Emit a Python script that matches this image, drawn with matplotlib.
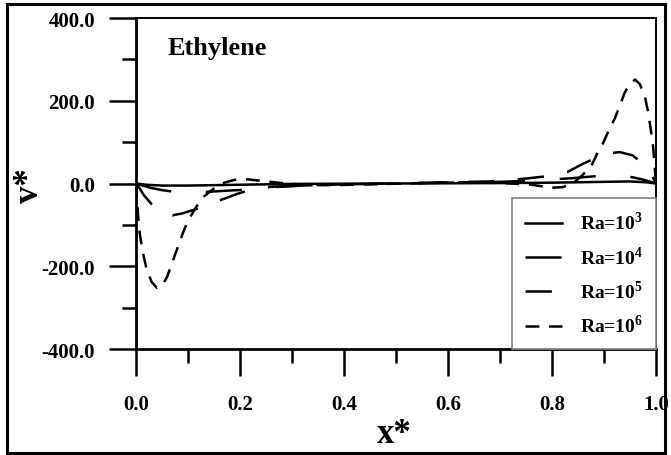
import matplotlib
matplotlib.use("Agg")
from matplotlib import pyplot as plt
from matplotlib.patches import Rectangle

plt.rcParams["font.family"] = ["Liberation Serif", "DejaVu Serif"]
plt.rcParams["font.weight"] = "bold"
plt.rcParams["mathtext.fontset"] = "custom"
plt.rcParams["mathtext.rm"] = "Liberation Serif:bold"
plt.rcParams["mathtext.bf"] = "Liberation Serif:bold"
plt.rcParams["lines.scale_dashes"] = False

# curves
x_ra3 = [0, 0.02, 0.05, 0.1, 0.2, 0.3, 0.5, 0.7, 0.8, 0.9, 0.95, 0.98, 1.0]
v_ra3 = [0, -3, -5, -5, -3, -1, 0, 1, 2, 4, 5, 3, 0]

x_ra4 = [0, 0.01, 0.03, 0.05, 0.073, 0.1, 0.14, 0.18, 0.21, 0.26, 0.32, 0.4,
         0.5, 0.6, 0.7, 0.78, 0.84, 0.896, 0.93, 0.955, 0.973, 0.99, 1.0]
v_ra4 = [0, -4, -11, -16, -20, -21, -20, -17, -15, -9, -5, -2,
         0, 2, 4, 8, 13, 19, 19, 15, 10, 4, 0]

x_ra5 = [0, 0.006, 0.015, 0.03, 0.05, 0.07, 0.09, 0.12, 0.145, 0.167, 0.195,
         0.22, 0.26, 0.32, 0.4, 0.5, 0.6, 0.68, 0.75, 0.8, 0.83, 0.86, 0.885,
         0.905, 0.93, 0.955, 0.975, 0.99, 1.0]
v_ra5 = [0, -10, -28, -50, -70, -77, -72, -60, -48, -38, -25,
         -15, -8, -5, -2, 0, 3, 5, 12, 19, 28, 48, 62,
         72, 76, 68, 48, 25, 0]

x_ra6 = [0, 0.003, 0.006, 0.012, 0.02, 0.03, 0.04, 0.05, 0.06, 0.07, 0.08,
         0.09, 0.1, 0.115, 0.13, 0.15, 0.17, 0.19, 0.215, 0.245, 0.28, 0.32,
         0.38, 0.45, 0.55, 0.62, 0.68, 0.72, 0.76, 0.8, 0.82, 0.84, 0.86,
         0.877, 0.888, 0.898, 0.908, 0.921, 0.931, 0.94, 0.95, 0.96, 0.969,
         0.979, 0.985, 0.99, 0.994, 0.997, 1.0]
v_ra6 = [0, -60, -110, -160, -205, -238, -252, -248, -225, -190, -155,
         -120, -90, -58, -32, -12, 2, 9, 10, 6, 1, -3,
         -4, -2, 1, 3, 3, 0, -3, -10, -9, 0, 22,
         46, 75, 97, 125, 158, 190, 220, 242, 251, 240,
         208, 172, 130, 95, 50, 0]

labels = [r"Ra=10$^{3}$", r"Ra=10$^{4}$", r"Ra=10$^{5}$", r"Ra=10$^{6}$"]
x_ticks = [0.0, 0.2, 0.4, 0.6, 0.8, 1.0]
y_ticks = [-400, -200, 0, 200, 400]

fig = plt.figure(figsize=(6.71, 4.56), dpi=100)
ax = fig.add_axes([136 / 671, 1 - 350 / 456, 520 / 671, 331 / 456])

lw = 1.8
ax.plot(x_ra3, v_ra3, color="black", lw=lw, label=labels[0])
ax.plot(x_ra4, v_ra4, color="black", lw=lw, dashes=(26, 25), label=labels[1])
ax.plot(x_ra5, v_ra5, color="black", lw=lw, dashes=(19, 17), label=labels[2])
ax.plot(x_ra6, v_ra6, color="black", lw=lw, dashes=(10, 7), label=labels[3])

ax.set_xlim(0, 1)
ax.set_ylim(-400, 400)
ax.set_xticks(x_ticks)
ax.set_xticklabels(["%.1f" % t for t in x_ticks])
ax.set_xticks([0.1, 0.3, 0.5, 0.7, 0.9], minor=True)
ax.set_yticks(y_ticks)
ax.set_yticklabels(["%.1f" % t for t in y_ticks])
ax.tick_params(which="major", direction="out", length=19.5, width=1.8,
               labelsize=15, pad=10)
ax.set_yticks([-300, -100, 100, 300], minor=True)
ax.tick_params(axis="x", which="major", pad=13)
ax.tick_params(which="minor", direction="out", length=10, width=1.8)
for s in ["left", "bottom"]:
    ax.spines[s].set_linewidth(2.0)
for s in ["top", "right"]:
    ax.spines[s].set_linewidth(1.4)

ax.text(0.06, 0.891, "Ethylene", transform=ax.transAxes, fontsize=19,
        fontweight="bold", va="baseline", ha="left")

leg = ax.legend(loc="lower right", bbox_to_anchor=(1, 0), borderaxespad=0,
                fontsize=14, handlelength=1.9, handletextpad=0.95,
                labelspacing=0.6, borderpad=0.65, fancybox=False,
                framealpha=1, edgecolor="gray")
leg.get_frame().set_linewidth(1.2)

fig.text(394 / 671, 1 - 443 / 456, "x*", fontsize=25, fontweight="bold",
         ha="center", va="baseline")
fig.text(30 / 671, 1 - 186 / 456, "v*", fontsize=25, fontweight="bold",
         ha="center", va="center", rotation=90)

fig.patches.append(Rectangle((6.5 / 671, 1 - 453.5 / 456), 658.5 / 671,
                             448.5 / 456, transform=fig.transFigure,
                             fill=False, lw=2.2, edgecolor="black"))

fig.savefig("out.png", dpi=100)
